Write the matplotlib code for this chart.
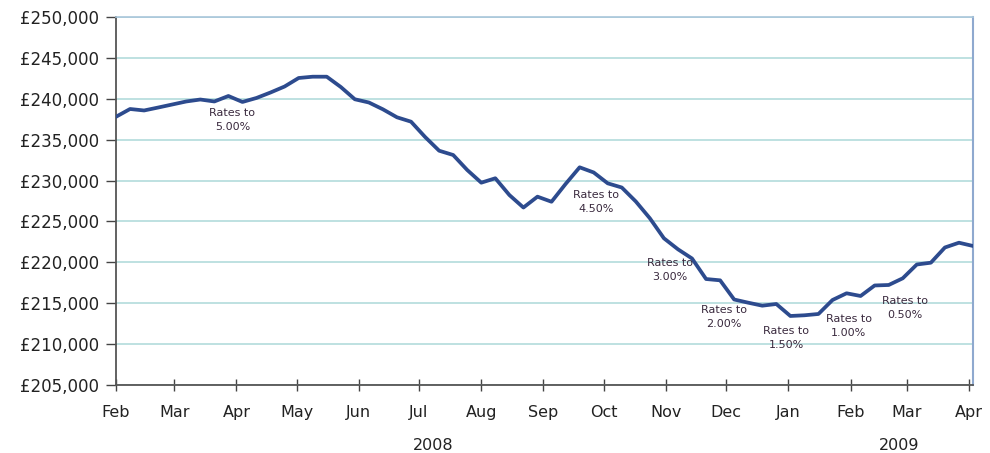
import matplotlib
matplotlib.use("Agg")
import matplotlib.pyplot as plt
import matplotlib.dates as mdates
import matplotlib.transforms as mtransforms
import pandas as pd
import numpy as np

# ---- data ----
dates = pd.date_range("2008-02-01", periods=62, freq="7D")
prices = [237800, 238750, 238570, 238930, 239300, 239670, 239910, 239670, 240340, 239610,
          240100, 240770, 241500, 242540, 242700, 242700, 241440, 239940, 239545, 238710,
          237735, 237200, 235330, 233650, 233125, 231290, 229740, 230280, 228230, 226700,
          228030, 227410, 229580, 231620, 230990, 229660, 229150, 227440, 225385, 222940,
          221595, 220470, 217960, 217800, 215455, 215065, 214700, 214905, 213440, 213525,
          213685, 215395, 216215, 215885, 217170, 217230, 218050, 219735, 219955, 221815,
          222400, 222000]

ann_labels = ["Rates to\n5.00%", "Rates to\n4.50%", "Rates to\n3.00%", "Rates to\n2.00%",
              "Rates to\n1.50%", "Rates to\n1.00%", "Rates to\n0.50%"]
ann_dates = ["2008-03-30", "2008-09-27", "2008-11-03", "2008-11-30",
             "2008-12-31", "2009-01-31", "2009-02-28"]
ann_values = [237400, 227380, 219060, 213320, 210750, 212220, 214420]

month_labels = ["Feb", "Mar", "Apr", "May", "Jun", "Jul", "Aug", "Sep", "Oct", "Nov",
                "Dec", "Jan", "Feb", "Mar", "Apr"]
month_ticks = pd.date_range("2008-02-01", "2009-04-01", freq="MS")
year_labels = ["2008", "2009"]
year_pos = ["2008-07-08", "2009-02-25"]

y_ticks = list(range(205000, 250001, 5000))

# ---- figure ----
fig = plt.figure(figsize=(9.9, 4.53), dpi=100)
ax = fig.add_axes([116/990, 1-385/453, (973-116)/990, (385-17)/453])

ax.plot(dates, prices, color="#2d4b8e", lw=2.7, solid_joinstyle="round", zorder=3)

ax.set_xlim(pd.Timestamp("2008-02-01"), pd.Timestamp("2009-04-03"))
ax.set_ylim(205000, 250000)

ax.set_yticks(y_ticks)
ax.set_yticklabels([f"£{v:,}" for v in y_ticks])
ax.yaxis.grid(True, color="#b3dcdc", lw=1.2)
ax.set_axisbelow(True)

ax.set_xticks(month_ticks)
ax.set_xticklabels(month_labels)

ax.tick_params(axis="y", direction="out", length=7, width=1, color="#444444",
               labelsize=12, labelcolor="#222222", pad=5)
ax.tick_params(axis="x", direction="inout", length=9, width=1, color="#444444",
               labelsize=11.5, labelcolor="#222222", pad=10)

for s in ["left", "bottom"]:
    ax.spines[s].set_color("#555555")
    ax.spines[s].set_linewidth(1.3)
ax.spines["right"].set_color("#8fa9cf")
ax.spines["right"].set_linewidth(1.5)
ax.spines["top"].set_color("#a9c6da")
ax.spines["top"].set_linewidth(1.2)

for lab, d, v in zip(ann_labels, ann_dates, ann_values):
    ax.text(pd.Timestamp(d), v, lab, ha="center", va="center", fontsize=8,
            color="#3a2a3e", linespacing=1.45, zorder=4)

trans = mtransforms.blended_transform_factory(ax.transData, fig.transFigure)
for lab, d in zip(year_labels, year_pos):
    ax.text(pd.Timestamp(d), 1-445/453, lab, ha="center", va="center", fontsize=11.5,
            color="#222222", transform=trans)

fig.savefig("out.png", dpi=100)
